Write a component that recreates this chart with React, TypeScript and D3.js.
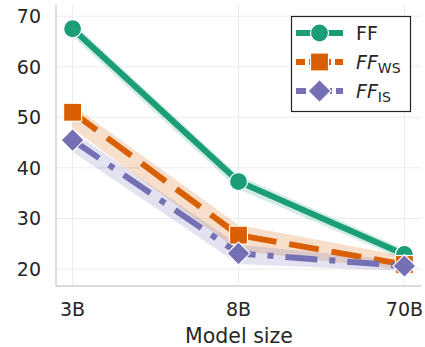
import React from "react";
import * as d3 from "d3";

const categories = ["3B", "8B", "70B"];
const ffValues = [67.5, 37.3, 22.9];
const ffLow = [66.0, 35.8, 21.8];
const ffHigh = [68.7, 38.5, 23.9];
const wsValues = [51.0, 26.7, 20.9];
const wsLow = [47.8, 23.6, 19.8];
const wsHigh = [52.4, 28.7, 22.6];
const isValues = [45.5, 23.1, 20.6];
const isLow = [43.2, 21.0, 19.6];
const isHigh = [47.2, 24.8, 21.6];
const yTicks = [20, 30, 40, 50, 60, 70];

const W = 425, H = 347;
const left = 56, right = 421, top = 5, bottom = 286;

export default function App() {
  const x = d3.scaleLinear().domain([-0.1, 2.1]).range([left, right]);
  const y = d3.scaleLinear().domain([16.65, 72.2]).range([bottom, top]);
  const line = d3.line<number>().x((_, i) => x(i)).y((d) => y(d));
  const area = (lo: number[], hi: number[]) =>
    d3.area<number>().x((_, i) => x(i)).y0((_, i) => y(lo[i])).y1((_, i) => y(hi[i]))(lo.map((_, i) => i)) || "";

  const series = [
    { vals: ffValues, lo: ffLow, hi: ffHigh, color: "#1b9e77", dash: "", marker: "circle" },
    { vals: wsValues, lo: wsLow, hi: wsHigh, color: "#d95f02", dash: "30 13", marker: "square" },
    { vals: isValues, lo: isLow, hi: isHigh, color: "#7570b3", dash: "32 12 6 12", marker: "diamond" },
  ];

  const marker = (type: string, cx: number, cy: number, color: string, key: any) => {
    if (type === "circle") return <circle key={key} cx={cx} cy={cy} r={9} fill={color} stroke="white" strokeWidth={1.2} />;
    if (type === "square") return <rect key={key} x={cx - 9} y={cy - 9} width={18} height={18} fill={color} stroke="white" strokeWidth={1.2} />;
    const r = 11.5;
    return <polygon key={key} points={`${cx},${cy - r} ${cx + r},${cy} ${cx},${cy + r} ${cx - r},${cy}`} fill={color} stroke="white" strokeWidth={1.2} />;
  };

  const font = "DejaVu Sans";
  const legendItems = [
    { label: <tspan>FF</tspan> },
    { label: <><tspan fontStyle="italic">FF</tspan><tspan fontSize={14} dy={4}>WS</tspan></> },
    { label: <><tspan fontStyle="italic">FF</tspan><tspan fontSize={14} dy={4}>IS</tspan></> },
  ];

  return (
    <svg width={W} height={H} style={{ position: "absolute", left: 0, top: 0 }} fontFamily={font}>
      <rect width={W} height={H} fill="white" />
      {yTicks.map((t) => (
        <line key={"gy" + t} x1={left} x2={right} y1={y(t)} y2={y(t)} stroke="#ebebeb" strokeWidth={1} />
      ))}
      {categories.map((c, i) => (
        <line key={"gx" + c} x1={x(i)} x2={x(i)} y1={top} y2={bottom} stroke="#ebebeb" strokeWidth={1} />
      ))}
      {series.map((s, k) => (
        <path key={"a" + k} d={area(s.lo, s.hi)} fill={s.color} opacity={0.2} />
      ))}
      {series.map((s, k) => (
        <g key={"s" + k}>
          <path d={line(s.vals) || ""} fill="none" stroke={s.color} strokeWidth={6} strokeDasharray={s.dash} />
          {s.vals.map((v, i) => marker(s.marker, x(i), y(v), s.color, i))}
        </g>
      ))}
      <line x1={left} x2={left} y1={top} y2={bottom} stroke="#cccccc" strokeWidth={1.3} />
      <line x1={left} x2={right} y1={bottom} y2={bottom} stroke="#cccccc" strokeWidth={1.3} />
      {yTicks.map((t) => (
        <text key={"ty" + t} x={41} y={y(t)} dy="0.36em" textAnchor="end" fontSize={19} fill="#262626">{t}</text>
      ))}
      {categories.map((c, i) => (
        <text key={"tx" + c} x={x(i)} y={316} textAnchor="middle" fontSize={19} fill="#262626">{c}</text>
      ))}
      <text x={(left + right) / 2 + 0.5} y={343} textAnchor="middle" fontSize={20.5} fill="#262626">Model size</text>
      <rect x={291.5} y={16.5} width={119} height={95} fill="white" stroke="#222" strokeWidth={1.2} />
      {series.map((s, k) => {
        const cy = 33 + k * 29;
        return (
          <g key={"l" + k}>
            <line x1={296} x2={343} y1={cy} y2={cy} stroke={s.color} strokeWidth={6} strokeDasharray={s.dash ? (k === 1 ? "9 4" : "10 4 2 4") : ""} />
            {marker(s.marker, 319.5, cy, s.color, 0)}
            <text x={356} y={cy} dy="0.36em" fontSize={19} fill="#262626">{legendItems[k].label}</text>
          </g>
        );
      })}
    </svg>
  );
}
